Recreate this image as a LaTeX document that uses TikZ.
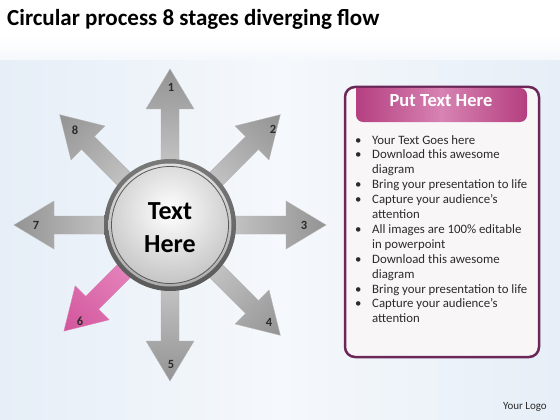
\documentclass[tikz,border=0pt]{standalone}
\usepackage{fontspec}
\setmainfont{Carlito}
\usetikzlibrary{calc}
\definecolor{plum}{HTML}{6B2758}
\definecolor{hdr}{HTML}{B53F80}
\definecolor{hdrhi}{HTML}{D783B3}
\definecolor{txt}{HTML}{2B2B2B}
\definecolor{bgblue}{HTML}{E6EEF7}
\definecolor{armlight}{HTML}{E2E2E2}
\definecolor{armdark}{HTML}{939393}
\definecolor{pinklight}{HTML}{F0A2CF}
\definecolor{pinkdark}{HTML}{D2559C}
\tikzset{
  numlbl/.style={font=\bfseries\fontsize{12.5}{13}\selectfont, text=txt, inner sep=0pt},
  bul/.style={anchor=base west, inner sep=0pt, font=\fontsize{12.8}{14}\selectfont, text=txt},
}
\begin{document}
\begin{tikzpicture}[x=1pt,y=-1pt]
\useasboundingbox (0,0) rectangle (560,420);
% background
\fill[white] (0,0) rectangle (560,420);
\shade[left color=bgblue, right color=bgblue, middle color=white!60!bgblue] (0,40) rectangle (560,420);
\shade[top color=white, bottom color=white!60!bgblue] (0,36) rectangle (560,60);
% title
\node[anchor=base west, inner sep=0pt, font=\bfseries\fontsize{23}{26}\selectfont] (title) at (7,26) {Circular process 8 stages diverging flow};
% arrows
\coordinate (c) at (170,225);
\def\L{156}
\foreach \a in {90,45,0,-45,-90,180,135}{
  \begin{scope}[transform canvas={rotate around={\a:(c)}}]
  \draw[draw=gray!60, line width=0.4pt, left color=armlight, right color=armdark]
    ($(c)+(0,-9)$) -- ++(\L-40,0) -- ++(0,-15) -- ($(c)+(\L,0)$) -- ($(c)+(\L-40,24)$) -- ++(0,-15) -- ($(c)+(0,9)$) -- cycle;
  \end{scope}
}
\begin{scope}[transform canvas={rotate around={-135:(c)}}]
\draw[draw=pinkdark!80, line width=0.4pt, left color=pinklight, right color=pinkdark]
  ($(c)+(0,-9)$) -- ++(\L-46,0) -- ++(0,-15) -- ($(c)+(\L-6,0)$) -- ($(c)+(\L-46,24)$) -- ++(0,-15) -- ($(c)+(0,9)$) -- cycle;
\end{scope}
% hub
\shade[top color=gray!95!black, bottom color=gray!70!black] (c) circle[radius=66];
\shade[top color=gray!25, bottom color=gray!65] (c) circle[radius=61.5];
\begin{scope}
\clip (c) circle[radius=58];
\shade[inner color=white, outer color=gray!50] ($(c)+(0,-14)$) circle[radius=80];
\end{scope}
\draw[gray!70!black, line width=0.8pt] (c) circle[radius=58.5];
\node[align=center, inner sep=0pt, font=\bfseries\fontsize{26}{33}\selectfont, text=black] (hub) at (170,228) {Text\\Here};
% numbers
\node[numlbl] (n1) at (171,87) {1};
\node[numlbl] (n2) at (273,129) {2};
\node[numlbl] (n3) at (304,225) {3};
\node[numlbl] (n4) at (269,322) {4};
\node[numlbl] (n5) at (171,364) {5};
\node[numlbl] (n6) at (80,321) {6};
\node[numlbl] (n7) at (36,225) {7};
\node[numlbl] (n8) at (75,130) {8};
% right panel
\draw[plum, line width=2.5pt, fill=white!96!plum, rounded corners=10pt] (345,87) rectangle (539,357);
\shade[left color=hdr, right color=hdr, middle color=hdrhi, rounded corners=7pt]
  (356,88) -- (356,122) -- (527,122) -- (527,88) [sharp corners] -- cycle;
\node[font=\bfseries\fontsize{18.5}{20}\selectfont, text=white, inner sep=0pt] (hdr) at (441,101) {Put Text Here};
\foreach \t [count=\i from 0] in {Your Text Goes here,Download this awesome,diagram,Bring your presentation to life,Capture your audience’s,attention,All images are 100\% editable,in powerpoint,Download this awesome,diagram,Bring your presentation to life,Capture your audience’s,attention}{
  \node[bul] (b\i) at (372,144+14.9*\i) {\t};
}
\foreach \i in {0,1,3,4,6,8,10,11}{
  \node[bul] (d\i) at (355,144+14.9*\i) {•};
}
\node[anchor=east, inner sep=0pt, font=\fontsize{11}{12}\selectfont, text=txt] (logo) at (547,407) {Your Logo};
\end{tikzpicture}
\end{document}
